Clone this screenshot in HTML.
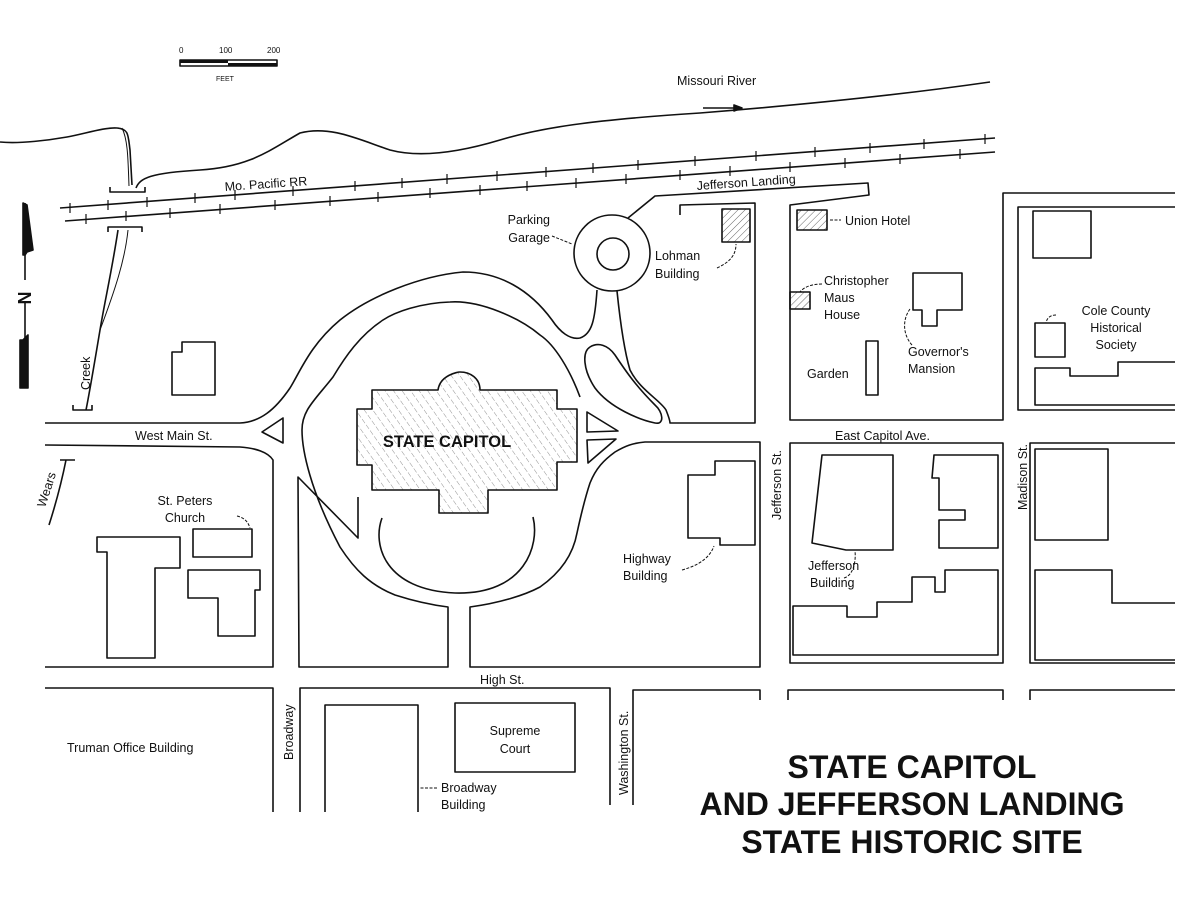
<!DOCTYPE html>
<html><head><meta charset="utf-8"><style>
html,body{margin:0;padding:0;background:#fff}
svg{display:block}
text{font-family:"Liberation Sans",sans-serif;fill:#111}
</style></head><body>
<svg width="1188" height="918" viewBox="0 0 1188 918" xmlns="http://www.w3.org/2000/svg">
<defs>
<pattern id="h" width="7" height="7" patternUnits="userSpaceOnUse" patternTransform="rotate(-35)">
<line x1="0" y1="0" x2="0" y2="7" stroke="#777" stroke-width="0.8" stroke-dasharray="3 2"/>
</pattern>
<pattern id="h2" width="5" height="5" patternUnits="userSpaceOnUse" patternTransform="rotate(45)">
<line x1="0" y1="0" x2="0" y2="5" stroke="#555" stroke-width="0.9"/>
</pattern>
</defs>
<g fill="none" stroke="#111" stroke-width="1.6" stroke-linejoin="round">
<rect x="180" y="60" width="97" height="6" fill="#fff"/>
<rect x="180" y="60" width="48" height="3" fill="#111" stroke="none"/>
<rect x="228" y="63" width="49" height="3" fill="#111" stroke="none"/>
<line x1="703" y1="108" x2="742" y2="108"/>
<path d="M742 108 L734 105 L734 111 Z" fill="#111"/>
<path d="M0 142 C20 144 50 140 67 137 S105 127 117 128 S128 135 130 150 L132 185"/>
<path d="M122 128 C128 140 128 160 129 186" stroke-width="1"/>
<path d="M136 188 C140 178 150 173 200 170 S270 150 300 133 C330 125 360 140 390 150 C420 158 460 152 500 140 C540 128 590 120 700 113 C800 105 900 95 990 82"/>
<path d="M110 187 L110 192 L145 192 L145 187"/>
<path d="M108 232 L108 227 L142 227 L142 232"/>
<path d="M73 405 L73 410 L92 410 L92 405"/>
<path d="M118 230 C112 270 105 300 100 330 C95 360 90 390 86 410"/>
<path d="M128 230 C125 260 115 290 100 330" stroke-width="1"/>
<path d="M60 460 L75 460 M66 460 C62 480 57 500 49 525"/>
<line x1="60" y1="208" x2="995" y2="138"/>
<line x1="65" y1="221" x2="995" y2="152"/>
<g stroke-width="1.2">
<path d="M70 203v10M108 200v10M147 197v10M195 193v10M235 190v10M293 186v10M355 181v10M402 178v10M447 174v10M497 171v10M546 167v10M593 163v10M638 160v10M695 156v10M756 151v10M815 147v10M870 143v10M924 139v10M985 134v10"/>
<path d="M86 214v10M126 211v10M170 208v10M220 204v10M275 200v10M330 196v10M378 192v10M430 188v10M480 185v10M527 181v10M576 178v10M626 174v10M680 170v10M730 166v10M790 162v10M845 158v10M900 154v10M960 149v10"/>
</g>
<line x1="25" y1="203" x2="25" y2="388"/>
<path d="M23 203 L27 205 L33 250 L27 252 L25 255 L23 255 Z" fill="#111"/>
<path d="M23 340 L28 335 L28 388 L20 388 L20 340 Z" fill="#111"/>
<rect x="18" y="280" width="14" height="22" fill="#fff" stroke="none"/>
<path d="M45 423 L240 423 C260 422 275 410 290 388 C300 372 310 345 340 320 C370 296 420 276 463 272 C500 272 530 290 552 320 C560 332 570 340 580 338 C592 334 595 320 597 290"/>
<path d="M45 445 L240 447 C255 448 268 452 273 460 L273 667 L45 667"/>
<path d="M262 432 L283 418 L283 443 Z"/>
<path d="M587 412 L587 432 L618 431 Z"/>
<path d="M587 440 L616 439 L588 463 Z"/>
<path d="M580 397 C570 370 555 345 540 335 C520 318 480 300 450 302 C420 303 395 312 383 320 C360 335 345 357 333 377 C315 400 302 410 302 430 C302 450 310 490 340 547 C355 570 370 585 395 595 C420 603 440 606 448 607 L448 667 L299 667 L298 477 L358 538 L358 497"/>
<path d="M470 667 L470 607 C500 603 525 595 540 587 C560 573 573 555 577 533 C582 510 586 495 590 483 C596 468 604 460 615 452 C625 446 633 443 645 442 L760 442 L760 667 Z"/>
<path d="M382 518 C372 545 385 590 455 593 C525 595 540 545 533 517"/>
<path d="M357 409 L372 409 L372 390 L438 390 C440 375 458 372 460 372 C470 372 480 378 480 390 L557 390 L557 409 L577 409 L577 462 L557 462 L557 490 L488 490 L488 513 L439 513 L439 490 L372 490 L372 465 L357 465 Z" fill="url(#h)"/>
<circle cx="612" cy="253" r="38"/>
<circle cx="613" cy="254" r="16"/>
<path d="M617 291 C620 320 624 350 630 370 C640 390 660 400 666 410 C668 415 670 420 670 423 L755 423 L755 203 L680 205 L680 215"/>
<path d="M590 347 C582 352 583 370 595 388 C610 408 640 420 655 423 C665 425 663 412 655 405 C635 385 625 370 615 355 C608 345 598 342 590 347 Z"/>
<path d="M628 218 L655 196 L868 183 L869 195 L790 205 L790 420 L1003 420 L1003 193 L1175 193"/>
<path d="M1175 207 L1018 207 L1018 410 L1175 410"/>
<rect x="722" y="209" width="28" height="33" fill="url(#h2)"/>
<rect x="797" y="210" width="30" height="20" fill="url(#h2)"/>
<rect x="790" y="292" width="20" height="17" fill="url(#h2)"/>
<path d="M913 273 L962 273 L962 310 L937 310 L937 326 L922 326 L922 310 L913 310 Z"/>
<rect x="866" y="341" width="12" height="54"/>
<rect x="1033" y="211" width="58" height="47"/>
<rect x="1035" y="323" width="30" height="34"/>
<path d="M1175 362 L1118 362 L1118 376 L1070 376 L1070 368 L1035 368 L1035 405 L1175 405"/>
<path d="M790 443 L1003 443 L1003 663 L790 663 Z"/>
<path d="M822 455 L893 455 L893 550 L846 550 L812 543 Z"/>
<path d="M934 455 L998 455 L998 548 L939 548 L939 520 L965 520 L965 510 L939 510 L939 478 L932 478 Z"/>
<path d="M793 606 L847 606 L847 617 L877 617 L877 602 L912 602 L912 577 L935 577 L935 592 L945 592 L945 570 L998 570 L998 655 L793 655 Z"/>
<path d="M1175 443 L1030 443 L1030 663 L1175 663"/>
<rect x="1035" y="449" width="73" height="91"/>
<path d="M1175 603 L1112 603 L1112 570 L1035 570 L1035 660 L1175 660"/>
<path d="M688 475 L715 475 L715 461 L755 461 L755 545 L720 545 L720 538 L688 538 Z"/>
<path d="M172 352 L182 352 L182 342 L215 342 L215 395 L172 395 Z"/>
<rect x="193" y="529" width="59" height="28"/>
<path d="M97 537 L180 537 L180 568 L155 568 L155 658 L107 658 L107 552 L97 552 Z"/>
<path d="M188 570 L260 570 L260 590 L255 590 L255 636 L218 636 L218 598 L188 598 Z"/>
<path d="M45 688 L273 688 L273 812"/>
<path d="M300 812 L300 688 L610 688 L610 805"/>
<path d="M633 805 L633 690 L760 690 L760 700"/>
<path d="M788 700 L788 690 L1003 690 L1003 700"/>
<path d="M1030 700 L1030 690 L1175 690"/>
<path d="M325 812 L325 705 L418 705 L418 812"/>
<rect x="455" y="703" width="120" height="69"/>
</g>
<g fill="none" stroke="#111" stroke-width="1" stroke-dasharray="3 1.5">
<path d="M552 236 L572 244"/>
<path d="M717 268 C730 262 736 255 736 244"/>
<path d="M830 220 L841 220"/>
<path d="M822 284 C810 284 803 288 800 292"/>
<path d="M912 345 C903 335 902 320 910 309"/>
<path d="M1056 315 C1050 315 1047 318 1046 323"/>
<path d="M682 570 C700 565 710 557 714 546"/>
<path d="M844 578 C854 575 856 560 855 551"/>
<path d="M237 516 C245 518 248 522 250 528"/>
<path d="M437 788 L420 788"/>
</g>
<g font-size="12.5">
<text x="179" y="53" font-size="8">0</text>
<text x="219" y="53" font-size="8">100</text>
<text x="267" y="53" font-size="8">200</text>
<text x="216" y="81" font-size="7">FEET</text>
<text x="677" y="85">Missouri River</text>
<text x="225" y="191" transform="rotate(-4 225 191)">Mo. Pacific RR</text>
<text x="697" y="190" transform="rotate(-4 697 190)">Jefferson Landing</text>
<text x="550" y="224" text-anchor="end">Parking</text>
<text x="550" y="242" text-anchor="end">Garage</text>
<text x="655" y="260">Lohman</text>
<text x="655" y="278">Building</text>
<text x="845" y="225">Union Hotel</text>
<text x="824" y="285">Christopher</text>
<text x="824" y="302">Maus</text>
<text x="824" y="319">House</text>
<text x="908" y="356">Governor's</text>
<text x="908" y="373">Mansion</text>
<text x="807" y="378">Garden</text>
<text x="1116" y="315" text-anchor="middle">Cole County</text>
<text x="1116" y="332" text-anchor="middle">Historical</text>
<text x="1116" y="349" text-anchor="middle">Society</text>
<text x="135" y="440">West Main St.</text>
<text x="835" y="440">East Capitol Ave.</text>
<text x="781" y="520" transform="rotate(-90 781 520)">Jefferson St.</text>
<text x="1027" y="510" transform="rotate(-90 1027 510)">Madison St.</text>
<text x="185" y="505" text-anchor="middle">St. Peters</text>
<text x="185" y="522" text-anchor="middle">Church</text>
<text x="623" y="563">Highway</text>
<text x="623" y="580">Building</text>
<text x="808" y="570">Jefferson</text>
<text x="810" y="587">Building</text>
<text x="480" y="684">High St.</text>
<text x="67" y="752">Truman Office Building</text>
<text x="293" y="760" transform="rotate(-90 293 760)">Broadway</text>
<text x="515" y="735" text-anchor="middle">Supreme</text>
<text x="515" y="753" text-anchor="middle">Court</text>
<text x="441" y="792">Broadway</text>
<text x="441" y="809">Building</text>
<text x="628" y="795" transform="rotate(-90 628 795)">Washington St.</text>
<text x="90" y="390" transform="rotate(-90 90 390)">Creek</text>
<text x="45" y="508" transform="rotate(-72 45 508)">Wears</text>
<text x="31" y="298" font-size="18" font-weight="bold" transform="rotate(-90 31 298)" text-anchor="middle">N</text>
</g>
<text x="447" y="447" text-anchor="middle" font-size="16.5" font-weight="bold">STATE CAPITOL</text>
<g font-size="32" font-weight="bold" text-anchor="middle">
<text x="912" y="778">STATE CAPITOL</text>
<text x="912" y="815">AND JEFFERSON LANDING</text>
<text x="912" y="853">STATE HISTORIC SITE</text>
</g>
</svg>
</body></html>
